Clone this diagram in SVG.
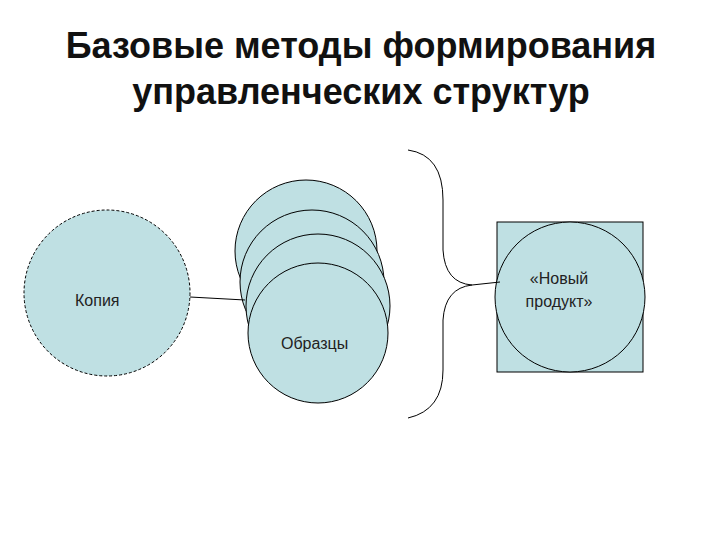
<svg xmlns="http://www.w3.org/2000/svg" width="720" height="540" viewBox="0 0 720 540">
<style>
.n{fill:#bfe0e3;stroke:#000;stroke-width:1}
.t{font-family:"Liberation Sans",Arial,sans-serif;font-size:16px;fill:#222}
.h{font-family:"Liberation Sans",Arial,sans-serif;font-size:36px;font-weight:bold;fill:#111;text-anchor:middle}
.c{fill:none;stroke:#000;stroke-width:1}
</style>
<rect width="720" height="540" fill="#fff"/>
<text class="h" x="361" y="58">Базовые методы формирования</text>
<text class="h" x="361" y="104">управленческих структур</text>
<g id="kopiya">
<circle class="n" cx="107" cy="293" r="83" stroke-dasharray="3,2"/>
<text class="t" x="75" y="306">Копия</text>
</g>
<g id="obraztsy">
<circle class="n" cx="306" cy="251" r="71"/>
<circle class="n" cx="312" cy="282" r="72"/>
<circle class="n" cx="318" cy="306" r="72"/>
<circle class="n" cx="318" cy="333" r="70"/>
<text class="t" x="281" y="349">Образцы</text>
</g>
<g id="produkt">
<rect class="n" x="497" y="222" width="146" height="150"/>
<circle class="n" cx="570" cy="297" r="75"/>
<text class="t" x="559" y="284" text-anchor="middle">«Новый</text>
<text class="t" x="559" y="307" text-anchor="middle">продукт»</text>
</g>
<g id="connectors">
<path class="c" d="M190 297 L245 300"/>
<path class="c" d="M408 150 Q443 155 443 200 L443 250 Q445 283 472 285 Q445 288 443 320 L443 370 Q443 410 408 418"/>
<path class="c" d="M472 285 L500 282"/>
</g>
</svg>
